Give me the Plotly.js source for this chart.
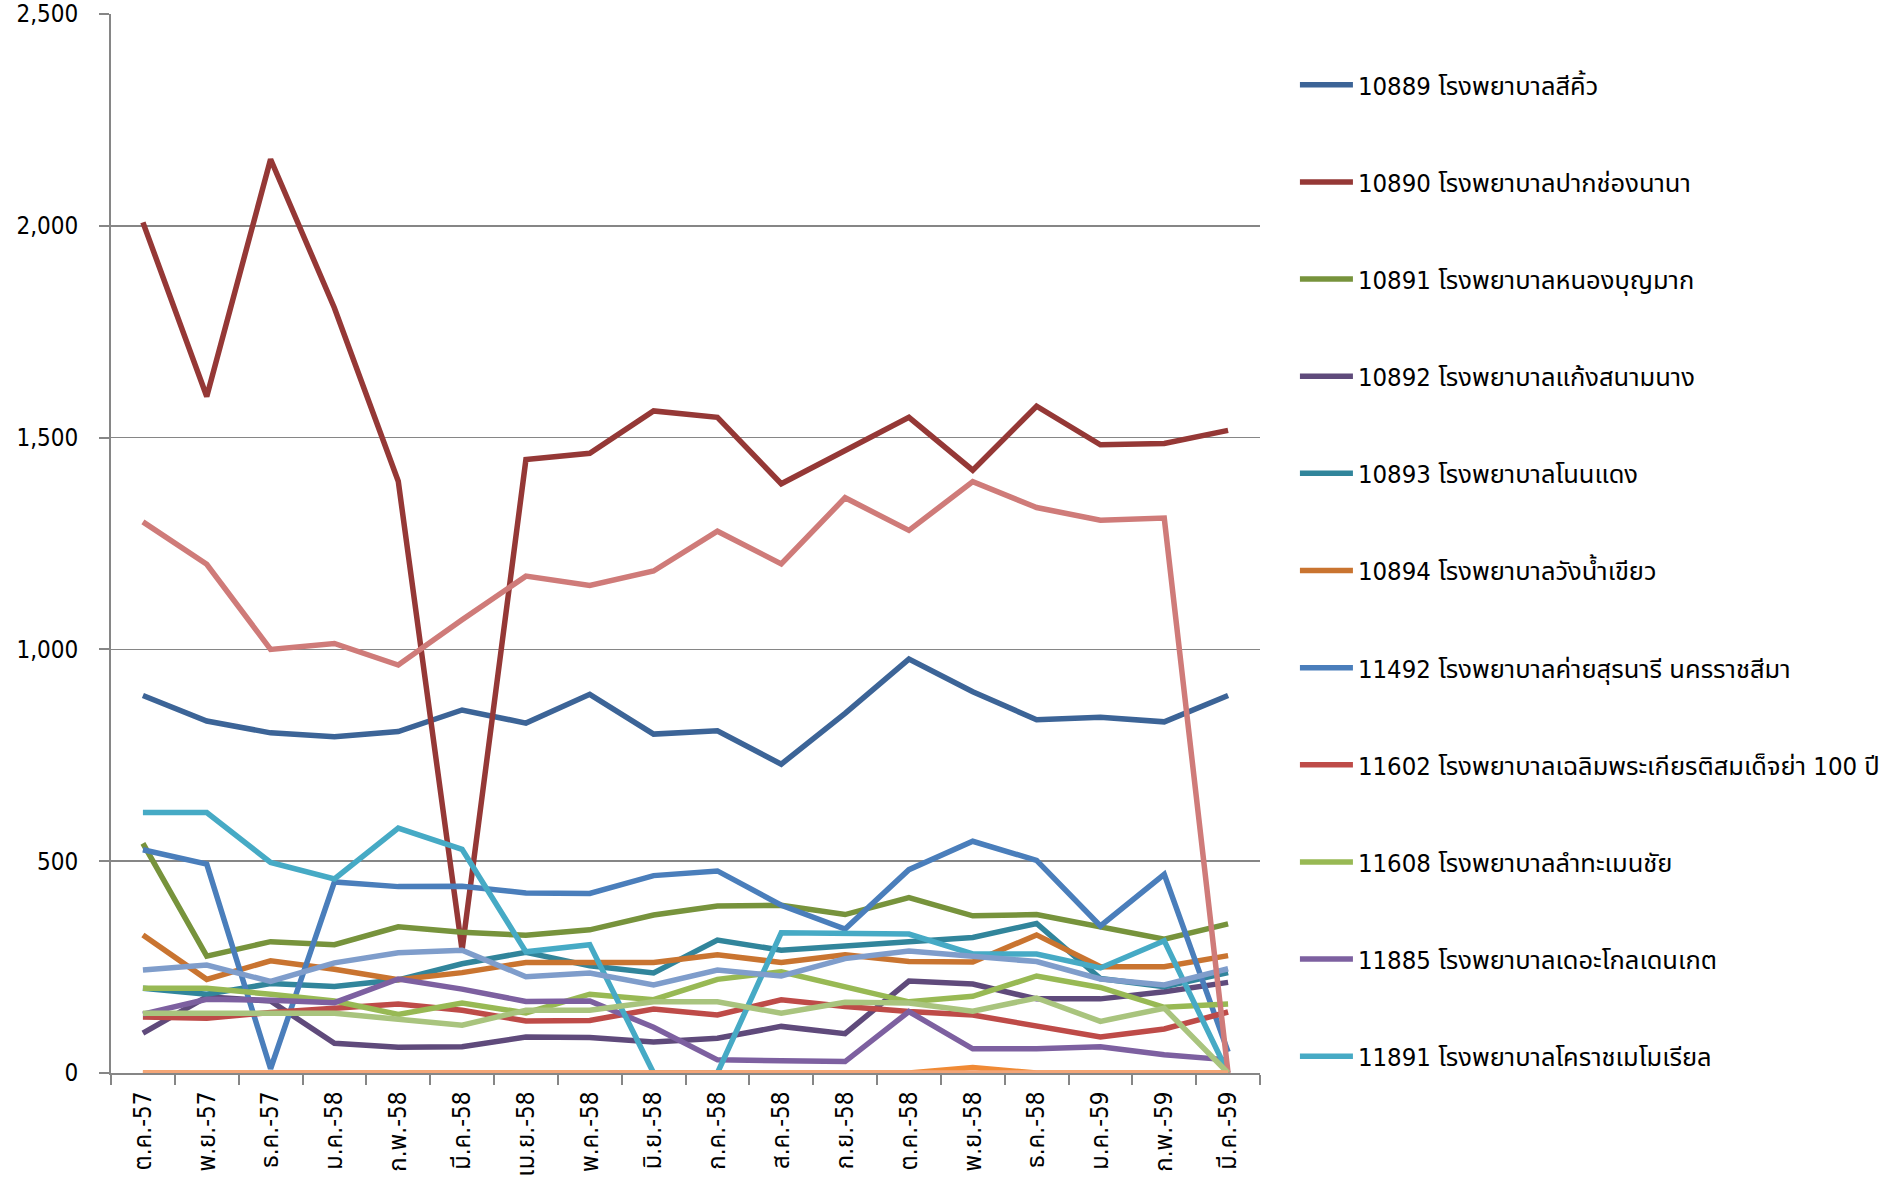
<!DOCTYPE html>
<html>
<head>
<meta charset="utf-8">
<script src="https://cdn.plot.ly/plotly-3.0.1.min.js"></script>
<style>
  html, body { margin: 0; padding: 0; background: #ffffff; }
  #chart { width: 1897px; height: 1181px; }
</style>
</head>
<body>
<div id="chart"></div>
<script>
// Categories (months, Thai Buddhist-era short form)
const months = ["ต.ค.-57","พ.ย.-57","ธ.ค.-57","ม.ค.-58","ก.พ.-58","มี.ค.-58","เม.ย.-58","พ.ค.-58","มิ.ย.-58",
                "ก.ค.-58","ส.ค.-58","ก.ย.-58","ต.ค.-58","พ.ย.-58","ธ.ค.-58","ม.ค.-59","ก.พ.-59","มี.ค.-59"];

// Series shown in the legend
const name10889 = "10889 โรงพยาบาลสีคิ้ว";
const val10889 = [891, 831, 803, 794, 806, 857, 826, 894, 800, 808, 729, 849, 977, 900, 834, 840, 829, 891];
const name10890 = "10890 โรงพยาบาลปากช่องนานา";
const val10890 = [2008, 1597, 2157, 1806, 1397, 290, 1448, 1463, 1563, 1548, 1391, 1468, 1548, 1423, 1574, 1483, 1486, 1517];
const name10891 = "10891 โรงพยาบาลหนองบุญมาก";
const val10891 = [542, 276, 310, 303, 345, 332, 325, 338, 373, 394, 396, 374, 414, 371, 374, 345, 316, 352];
const name10892 = "10892 โรงพยาบาลแก้งสนามนาง";
const val10892 = [94, 180, 170, 70, 61, 62, 85, 84, 73, 82, 110, 93, 217, 210, 175, 175, 192, 214];
const name10893 = "10893 โรงพยาบาลโนนแดง";
const val10893 = [200, 186, 211, 204, 220, 258, 285, 253, 236, 314, 290, 300, 310, 320, 353, 223, 204, 237];
const name10894 = "10894 โรงพยาบาลวังน้ำเขียว";
const val10894 = [326, 221, 265, 245, 220, 237, 261, 261, 261, 279, 261, 279, 263, 262, 326, 251, 251, 277];
const name11492 = "11492 โรงพยาบาลค่ายสุรนารี นครราชสีมา";
const val11492 = [527, 493, 10, 451, 440, 441, 425, 424, 466, 477, 396, 340, 480, 547, 502, 347, 469, 50];
const name11602 = "11602 โรงพยาบาลเฉลิมพระเกียรติสมเด็จย่า 100 ปี";
const val11602 = [132, 129, 143, 153, 163, 148, 123, 124, 151, 137, 173, 157, 145, 137, 111, 85, 104, 144];
const name11608 = "11608 โรงพยาบาลลำทะเมนชัย";
const val11608 = [200, 200, 186, 170, 138, 165, 142, 186, 173, 221, 239, 203, 168, 181, 229, 202, 155, 163];
const name11885 = "11885 โรงพยาบาลเดอะโกลเดนเกต";
const val11885 = [139, 174, 172, 166, 222, 198, 169, 170, 108, 31, 29, 27, 145, 57, 57, 62, 43, 31];
const name11891 = "11891 โรงพยาบาลโคราชเมโมเรียล";
const val11891 = [615, 615, 497, 458, 578, 528, 286, 303, 0, 0, 331, 331, 328, 281, 281, 248, 312, 0];

// Further series drawn in the chart whose legend entries are cut off in the original
const valHidden12 = [0, 0, 0, 0, 0, 0, 3, 3, 3, 0, 0, 0, 0, 13, 0, 0, 0, 0];
const valHidden13 = [243, 255, 216, 260, 284, 290, 227, 236, 208, 243, 229, 270, 288, 274, 263, 222, 208, 246];
const valHidden14 = [1301, 1201, 1000, 1014, 963, 1070, 1173, 1151, 1185, 1279, 1202, 1358, 1281, 1396, 1335, 1305, 1310, 0];
const valHidden15 = [141, 140, 139, 141, 127, 113, 148, 148, 168, 168, 141, 167, 165, 146, 177, 122, 153, 0];
const valHidden18 = [0, 0, 0, 0, 0, 0, 0, 0, 0, 0, 0, 0, 0, 0, 0, 0, 0, 0];

const yTickVals = [0, 500, 1000, 1500, 2000, 2500];

const FONT = "Tahoma, 'DejaVu Sans Condensed', 'Noto Sans Thai', 'Loma', 'Garuda', 'Liberation Sans', sans-serif";
const LW = 5.5;

function tr(name, vals, color, show) {
  return {
    type: "scatter", mode: "lines", x: months, y: vals, name: name,
    line: { color: color, width: LW, shape: "linear" },
    showlegend: show, legendgroup: name, hoverinfo: "skip"
  };
}

const data = [
  tr(name10889, val10889, "#3C6497", true),
  tr(name10890, val10890, "#953836", true),
  tr(name10891, val10891, "#77933C", true),
  tr(name10892, val10892, "#5F4A7B", true),
  tr(name10893, val10893, "#31859B", true),
  tr(name10894, val10894, "#C97430", true),
  tr(name11492, val11492, "#4A7EBB", true),
  tr(name11602, val11602, "#BE4B48", true),
  tr(name11608, val11608, "#98B954", true),
  tr(name11885, val11885, "#7D60A0", true),
  tr(name11891, val11891, "#46AAC5", true),
  tr("series 12", valHidden12, "#F08A35", false),
  tr("series 13", valHidden13, "#7F9DCB", false),
  tr("series 14", valHidden14, "#CF7B79", false),
  tr("series 15", valHidden15, "#A9C47E", false),
  tr("series 18", valHidden18, "#F4A679", false)
];

const layout = {
  width: 1897, height: 1181,
  paper_bgcolor: "#ffffff", plot_bgcolor: "#ffffff",
  margin: { l: 111, r: 635, t: 14, b: 108, pad: 0 },
  font: { family: FONT, size: 24, color: "#000000" },
  showlegend: true,
  legend: {
    x: 1.0304, xanchor: "left", y: 0.955, yanchor: "top",
    font: { family: FONT, size: 25.5, color: "#000000" },
    tracegroupgap: 61, itemwidth: 53, bgcolor: "rgba(0,0,0,0)",
    traceorder: "grouped"
  },
  xaxis: {
    type: "category", range: [-0.5, 17.5], fixedrange: true,
    showline: true, linecolor: "#868686", linewidth: 2,
    ticks: "outside", tickson: "boundaries", ticklen: 10, tickwidth: 2, tickcolor: "#868686",
    showgrid: false, zeroline: false,
    tickangle: -90, ticklabelstandoff: 7,
    tickfont: { family: FONT, size: 24, color: "#000000" }
  },
  yaxis: {
    range: [0, 2500], tickvals: yTickVals, tickformat: ",d", fixedrange: true,
    showline: true, linecolor: "#868686", linewidth: 2,
    ticks: "outside", ticklen: 10, tickwidth: 2, tickcolor: "#868686",
    showgrid: true, gridcolor: "#868686", gridwidth: 1.5,
    zeroline: false, ticklabelstandoff: 16,
    tickfont: { family: FONT, size: 24, color: "#000000" }
  }
};

Plotly.newPlot("chart", data, layout, { staticPlot: true, displayModeBar: false });
</script>
</body>
</html>
